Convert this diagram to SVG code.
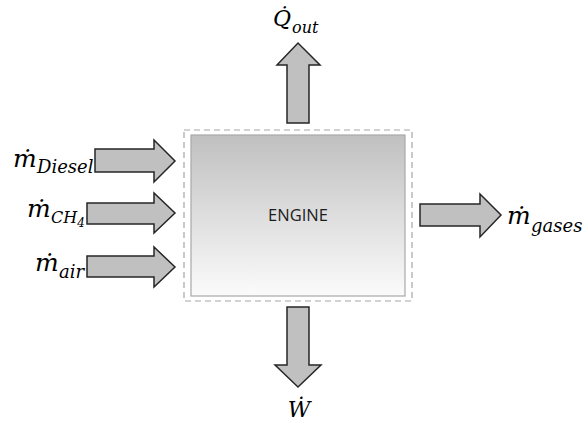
<svg xmlns="http://www.w3.org/2000/svg" width="587" height="427" viewBox="0 0 587 427">
  <defs>
    <linearGradient id="engineFill" x1="0" y1="0" x2="0" y2="1">
      <stop offset="0" stop-color="#c0c0c0"/>
      <stop offset="1" stop-color="#fbfbfb"/>
    </linearGradient>
  </defs>
  <style>
    .flow { fill: #c0c0c0; stroke: #262626; stroke-width: 1.5; stroke-linejoin: miter; }
    .math { font-family: "DejaVu Serif", "Liberation Serif", serif; font-style: italic; fill: #000; }
    .big { font-size: 25px; }
    .cap { font-size: 22px; }
    .sub { font-size: 18px; }
    .sub2 { font-size: 12px; }
    .lbl { font-family: "Open Sans", "Liberation Sans", sans-serif; font-size: 16.5px; fill: #1c1c1c; }
  </style>
  <rect width="587" height="427" fill="#fff"/>

  <!-- engine control volume -->
  <g id="engine">
    <rect x="184" y="130" width="228" height="171" fill="none" stroke="#a6a6a6" stroke-width="1.2" stroke-dasharray="6,4"/>
    <rect x="191" y="135" width="214" height="161" fill="url(#engineFill)" stroke="#a8a8a8" stroke-width="1.2"/>
    <text class="lbl" x="298" y="221" text-anchor="middle">ENGINE</text>
  </g>

  <!-- flow arrows -->
  <g id="connectors">
    <path class="flow" d="M95,149 H154 V140 L175,161 L154,182 V172 H95 Z"/>
    <path class="flow" d="M87,203 H154 V193 L175,213 L154,233 V224 H87 Z"/>
    <path class="flow" d="M87,256 H154 V247 L175,267 L154,287 V277 H87 Z"/>
    <path class="flow" d="M420,204 H480 V194 L501,215 L480,237 V226 H420 Z"/>
    <path class="flow" d="M287,123 V65 H277 L298,43 L320,65 H309 V123 Z"/>
    <path class="flow" d="M287,307 V365 H275 L298,387 L321,365 H309 V307 Z"/>
  </g>

  <!-- stream labels -->
  <g id="label-diesel">
    <text class="math big" x="13" y="167">ṁ</text>
    <text class="math sub" x="37" y="173">Diesel</text>
  </g>
  <g id="label-ch4">
    <text class="math big" x="27" y="217">ṁ</text>
    <text class="math" x="51" y="223"><tspan style="font-size:16px">CH</tspan><tspan class="sub2" dy="4">4</tspan></text>
  </g>
  <g id="label-air">
    <text class="math big" x="35" y="271">ṁ</text>
    <text class="math sub" x="59" y="278">air</text>
  </g>
  <g id="label-gases">
    <text class="math big" x="507" y="224">ṁ</text>
    <text class="math sub" x="531" y="232">gases</text>
  </g>
  <g id="label-qout">
    <text class="math cap" x="273" y="26">Q̇</text>
    <text class="math" style="font-size:16px" x="292" y="33">out</text>
  </g>
  <g id="label-w">
    <text class="math cap" x="299" y="417" text-anchor="middle">Ẇ</text>
  </g>
</svg>
